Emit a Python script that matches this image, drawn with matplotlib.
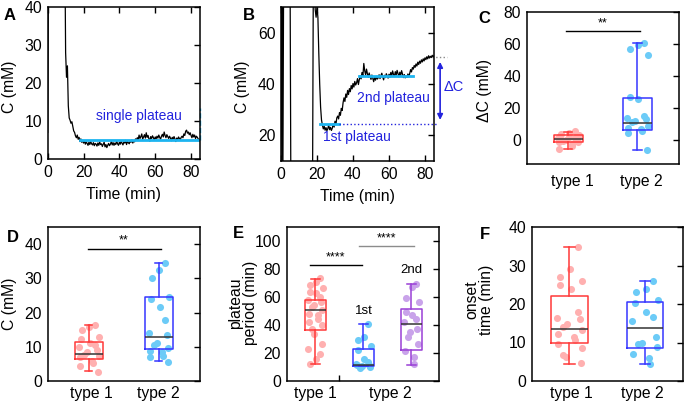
import numpy as np
import matplotlib.pyplot as plt

plt.rcParams['font.family'] = ['Liberation Sans', 'DejaVu Sans']
plt.rcParams['font.size'] = 11.3
plt.rcParams['axes.linewidth'] = 1.1
plt.rcParams['axes.unicode_minus'] = False

W, H = 685, 404

# ---- data ----
# concentration traces, one value every 0.5 min from 0 to 85 min
time_a = np.arange(0, 85.5, 0.5)
conc_a = [7, 60, 60, 60, 60, 60, 60, 60, 60, 60,
          60, 60, 60, 60, 60, 60, 60, 60, 60, 60,
          28, 21.5, 24.5, 14, 10.8, 10.2, 9.4, 9.8, 8.6, 7.4,
          7.0, 6.1, 5.6, 6.3, 5.2, 5.7, 4.6, 5.3, 4.4, 4.9,
          4.2, 4.8, 3.9, 4.5, 4.1, 3.6, 4.4, 3.8, 4.6, 4.0,
          3.7, 4.3, 3.5, 4.1, 3.9, 3.4, 4.2, 3.6, 4.5, 3.8,
          4.0, 3.3, 3.9, 4.4, 3.2, 3.8, 3.0, 3.6, 4.1, 3.5,
          3.9, 4.6, 3.7, 4.3, 3.6, 4.2, 3.8, 4.7, 4.0, 3.6,
          4.4, 3.9, 4.8, 4.1, 3.7, 4.5, 4.2, 4.9, 3.8, 4.6,
          4.3, 4.0, 4.7, 4.4, 5.0, 4.2, 4.8, 4.5, 5.3, 4.9,
          5.6, 5.1, 6.3, 5.4, 5.9, 6.6, 5.2, 5.8, 6.4, 5.5,
          6.9, 5.7, 6.2, 5.3, 4.7, 5.9, 5.4, 6.1, 5.6, 5.0,
          5.8, 5.3, 6.0, 5.5, 6.3, 5.7, 5.2, 6.0, 6.5, 5.8,
          7.1, 6.2, 5.6, 6.4, 5.9, 5.4, 6.0, 5.5, 4.8, 5.7,
          5.2, 5.9, 5.3, 4.6, 5.5, 5.0, 5.8, 5.4, 5.1, 5.7,
          6.0, 5.6, 6.6, 6.2, 7.3, 7.6, 6.8, 7.1, 6.4, 6.9,
          6.2, 5.6, 6.5, 5.8, 6.3, 5.4, 6.0, 5.7, 5.3, 4.9,
          5.2]

time_b = np.arange(0, 85.5, 0.5)
conc_b = [-5, 90, -5, 90, 90, 90, 90, 90, 90, 90,
          90, -5, -5, -5, -5, -5, -5, -5, -5, -5,
          -5, -5, -5, -5, -5, -5, -5, -5, -5, -5,
          -5, -5, -5, -5, -5, -5, 90, 80, 69, 66,
          70, 66, 52, 40, 31, 26, 24, 22.5, 23.5, 22,
          23.0, 21.8, 22.6, 24.0, 22.2, 23.1, 21.9, 22.8, 24.5, 23.2,
          25.5, 24.2, 26.8, 27.5, 26.4, 28.9, 27.8, 30.5, 29.7, 32.8,
          34.6, 33.2, 36.1, 34.8, 37.5, 35.9, 38.2, 37.0, 39.4, 38.1,
          40.2, 38.8, 41.0, 39.6, 40.5, 42.1, 39.8, 41.7, 43.2, 42.0,
          44.5, 43.1, 48.0, 45.2, 43.6, 45.8, 44.0, 42.6, 44.3, 42.9,
          41.8, 43.5, 42.2, 40.9, 42.7, 41.5, 43.0, 41.9, 42.4, 43.6,
          42.1, 43.3, 44.2, 42.8, 41.6, 43.4, 42.5, 44.0, 43.1, 42.3,
          43.8, 42.6, 44.5, 43.2, 45.1, 43.7, 42.9, 44.8, 43.5, 45.3,
          44.0, 42.8, 44.6, 43.4, 45.2, 43.9, 42.5, 43.7, 42.4, 43.2,
          42.6, 43.9, 42.8, 44.1, 45.6, 44.7, 46.4, 45.8, 47.2, 46.5,
          47.8, 47.0, 48.5, 47.6, 48.9, 48.1, 49.4, 48.6, 49.8, 49.0,
          50.2, 49.5, 50.6, 49.8, 51.0, 50.1, 50.8, 50.3, 51.2, 50.5,
          51.0]

single_level, single_span = 5.0, [18, 85]
first_level, first_span = 24.5, [21.5, 32]
second_level, second_span = 43.0, [43.5, 73.5]
end_level = 50.5

# panel C: delta C (mM); box stats = whislo, q1, med, q3, whishi
dc_t1 = [5.5, 4.5, 4, 3, 2.5, 2, 1.5, 1, 0.5, 0, -0.5, -1, -1.5, -2.5, -4, -5.5]
dc_t2 = [60.5, 59.5, 56.5, 53, 27, 25.5, 15, 14, 13, 12, 11, 9, 7.5, 7, 5.5, 4.5, -6]
dc_box_t1 = [-5.4, -1.3, 0.6, 2.9, 4.8]
dc_box_t2 = [-6, 6.3, 10.6, 26.3, 60.3]

# panel D: C (mM)
c_t1 = [16.5, 15.8, 14.8, 12.8, 12.3, 11.1, 10.5, 9.9, 9.2, 8.4, 7.7, 7.4, 6.9, 5.9, 5.2, 4.4, 2.7]
c_t2 = [34.5, 32.5, 30.2, 24.6, 24.1, 21.7, 17.7, 14.1, 13.3, 11.1, 10.5, 9.6, 8.9, 8.4, 7.4, 6.9, 5.6]
c_box_t1 = [2.8, 6.4, 7.8, 11.3, 16.3]
c_box_t2 = [5.9, 9.4, 13.0, 24.6, 34.5]

# panel E: plateau period (min)
per_t1 = [73.5, 71, 68.7, 66.3, 63.9, 62.7, 60.2, 57.8, 56.6, 54.2, 53, 50.6,
          48.2, 47, 44.6, 42.2, 39.8, 37.3, 33.7, 26.5, 22.9, 19.3, 15.7, 12]
per_1st = [41, 31.3, 29.4, 25.3, 22.2, 15.7, 13.3, 12, 11.3, 10.6, 9.6, 10.1, 11.1]
per_2nd = [69.2, 67, 59, 56.6, 49.4, 47, 44.6, 42.2, 37.3, 34.9, 31.3, 26.5, 21.7, 16.9, 12]
per_box_t1 = [12.0, 36.6, 50.4, 58.1, 72.8]
per_box_1st = [10.8, 10.8, 11.6, 23.1, 40.5]
per_box_2nd = [11.3, 22.4, 41.0, 51.1, 69.2]

# panel F: onset time (min)
on_t1 = [34.7, 29, 26.9, 26.1, 25, 23.8, 18, 16.3, 16, 14.9, 14.1, 13.2, 12.3,
         11.5, 10.6, 9.7, 8.6, 6.7, 6.3, 4.7]
on_t2 = [25.9, 23.8, 23.2, 21, 20.3, 18, 16.7, 15.7, 11.5, 9.9, 9.6, 8.9, 7.1, 6.1, 4.3]
on_box_t1 = [4.5, 9.9, 13.4, 22.2, 34.7]
on_box_t2 = [4.3, 8.7, 13.7, 20.6, 25.9]

# ---- colours ----
BLUE_TXT = '#2323dd'
CYAN = '#1db4f0'
RED, PINK = '#ff3838', '#ffb0b0'
BBOX, LBLUE = '#3636ff', '#6ccbf7'
PURP, LPURP = '#9a3fd6', '#c9a3ea'


def px_axes(fig, left, top, right, bottom):
    return fig.add_axes([left / W, 1 - bottom / H, (right - left) / W, (bottom - top) / H])


def draw_box(ax, pos, stats, pts, ecol, pcol, width, capw):
    lo, q1, med, q3, hi = stats
    off = 0.36 * width * np.sin(np.arange(len(pts)) * 2.39 + 0.7)
    ax.scatter(pos + off, pts, s=26, color=pcol, linewidths=0, zorder=2)
    st = [dict(whislo=lo, q1=q1, med=med, q3=q3, whishi=hi, fliers=[])]
    ax.bxp(st, positions=[pos], widths=width, capwidths=capw, showfliers=False,
           boxprops=dict(color=ecol, lw=1.1), whiskerprops=dict(color=ecol, lw=1.1),
           capprops=dict(color=ecol, lw=1.1), medianprops=dict(color='#333333', lw=1.1),
           manage_ticks=False, zorder=3)


def sig(ax, x0, x1, y, col='black'):
    ax.plot([x0, x1], [y, y], color=col, lw=1.0)


fig = plt.figure(figsize=(W / 100, H / 100), dpi=100)

# ---- A ----
axA = px_axes(fig, 47.7, 7, 200, 159)
axA.plot(time_a, conc_a, color='black', lw=0.9)
axA.plot(single_span, [single_level] * 2, color=CYAN, lw=2)
axA.plot([85, 85], [single_level, 13.5], color=CYAN, lw=1, ls='--', clip_on=False)
axA.text(51, 11.3, 'single plateau', color=BLUE_TXT, ha='center', va='center', fontsize=10)
axA.set_xlim(0, 85)
axA.set_ylim(0, 40)
axA.set_xticks([0, 20, 40, 60, 80])
axA.set_yticks([0, 10, 20, 30, 40])
axA.set_xlabel('Time (min)', labelpad=5)

# ---- B ----
axB = px_axes(fig, 281, 7, 434, 161)
axB.plot(time_b, conc_b, color='black', lw=0.9)
axB.plot(first_span, [first_level] * 2, color=CYAN, lw=2)
axB.plot(second_span, [second_level] * 2, color=CYAN, lw=2)
yt = axB.get_yaxis_transform()
axB.plot([first_span[1] / 85, 1.02], [first_level] * 2, color=BLUE_TXT, lw=1, ls=':',
         transform=yt, clip_on=False)
axB.plot([0.985, 1.083], [end_level] * 2, color='#888888', lw=1, ls=':',
         transform=yt, clip_on=False)
axB.annotate('', xy=(1.04, 48.6), xytext=(1.04, 26.0), xycoords=yt, textcoords=yt,
             arrowprops=dict(arrowstyle='<|-|>', color=BLUE_TXT, lw=1.2,
                             mutation_scale=8, shrinkA=0, shrinkB=0))
axB.text(1.06, 39, 'ΔC', transform=yt, color=BLUE_TXT, ha='left', va='center', fontsize=10.5)
axB.text(62.6, 34.4, '2nd plateau', color=BLUE_TXT, ha='center', va='center', fontsize=10)
axB.text(42.4, 19.2, '1st plateau', color=BLUE_TXT, ha='center', va='center', fontsize=10)
axB.set_xlim(0, 85)
axB.set_ylim(10, 70)
axB.set_xticks([0, 20, 40, 60, 80])
axB.set_yticks([20, 40, 60])
axB.set_xlabel('Time (min)', labelpad=5)

for ax in (axA, axB):
    ax.tick_params(direction='in', top=True, right=True, left=False, labelleft=True,
                   length=4, width=1.0, pad=4)

# ---- C ----
axC = px_axes(fig, 526.7, 11.7, 679, 164)
draw_box(axC, 1, dc_box_t1, dc_t1, RED, PINK, 0.42, 0.12)
draw_box(axC, 2, dc_box_t2, dc_t2, BBOX, LBLUE, 0.42, 0.12)
sig(axC, 0.97, 2.04, 68)
axC.text(1.5, 69, '**', ha='center', va='bottom', fontsize=9)
axC.set_xlim(0.4, 2.6)
axC.set_ylim(-15, 80)
axC.set_yticks([0, 20, 40, 60, 80])
axC.set_xticks([1.06, 2.05])
axC.set_xticklabels(['type 1', 'type 2'])

# ---- D ----
axD = px_axes(fig, 47.7, 227, 200, 381)
draw_box(axD, 1, c_box_t1, c_t1, RED, PINK, 0.4, 0.1)
draw_box(axD, 2, c_box_t2, c_t2, BBOX, LBLUE, 0.4, 0.1)
sig(axD, 0.98, 2.03, 38.5)
axD.text(1.5, 39.3, '**', ha='center', va='bottom', fontsize=9)
axD.set_xlim(0.41, 2.59)
axD.set_ylim(0, 45)
axD.set_yticks([0, 10, 20, 30, 40])
axD.set_xticks([1.04, 1.99])
axD.set_xticklabels(['type 1', 'type 2'])

# ---- E ----
axE = px_axes(fig, 286.7, 227, 439.3, 381)
draw_box(axE, 1, per_box_t1, per_t1, RED, PINK, 0.42, 0.2)
draw_box(axE, 2, per_box_1st, per_1st, BBOX, LBLUE, 0.42, 0.2)
draw_box(axE, 3, per_box_2nd, per_2nd, PURP, LPURP, 0.42, 0.2)
sig(axE, 0.885, 1.96, 82.7)
axE.text(1.42, 84, '****', ha='center', va='bottom', fontsize=9)
sig(axE, 1.906, 3.06, 96.4, col='#8c8c8c')
axE.text(2.48, 97.7, '****', ha='center', va='bottom', fontsize=9)
axE.text(2, 50, '1st', ha='center', va='center', fontsize=9.5)
axE.text(3, 79, '2nd', ha='center', va='center', fontsize=9.5)
axE.set_xlim(0.4, 3.58)
axE.set_ylim(0, 110)
axE.set_yticks([0, 20, 40, 60, 80, 100])
axE.set_xticks([1, 2.55])
axE.set_xticklabels(['type 1', 'type 2'])
axE.set_xticks([1.5], minor=True)
axE.tick_params(axis='x', which='minor', direction='in', bottom=True, length=4, width=1.0)

# ---- F ----
axF = px_axes(fig, 531.7, 227, 682.7, 381)
draw_box(axF, 1, on_box_t1, on_t1, RED, PINK, 0.48, 0.14)
draw_box(axF, 2, on_box_t2, on_t2, BBOX, LBLUE, 0.48, 0.14)
axF.set_xlim(0.5, 2.5)
axF.set_ylim(0, 40)
axF.set_yticks([0, 10, 20, 30, 40])
axF.set_xticks([1.03, 1.97])
axF.set_xticklabels(['type 1', 'type 2'])

for ax in (axC, axD, axE, axF):
    ax.tick_params(axis='y', which='major', direction='in', right=True, left=False,
                   labelleft=True, length=4, width=1.0, pad=4)
    ax.tick_params(axis='x', which='major', bottom=False, length=0, pad=3.5)
axC.tick_params(axis='x', which='major', pad=7)

# ---- y labels and panel letters (pixel positions) ----
def ftext(x, y, s, **kw):
    fig.text(x / W, 1 - y / H, s, **kw)


ylab = dict(rotation=90, ha='center', va='center', multialignment='center')
ftext(9.5, 87, 'C (mM)', **ylab)
ftext(242.5, 87, 'C (mM)', **ylab)
ftext(485, 90, 'ΔC (mM)', **ylab)
ftext(9.5, 304, 'C (mM)', **ylab)
ftext(243, 303, 'plateau\nperiod (min)', linespacing=1.0, **ylab)
ftext(479, 300, 'onset\ntime (min)', linespacing=1.0, **ylab)

letter = dict(ha='left', va='center', fontsize=12, fontweight='bold')
ftext(4, 15, 'A', **letter)
ftext(243, 15, 'B', **letter)
ftext(478, 18.5, 'C', **letter)
ftext(7, 238, 'D', **letter)
ftext(233, 234, 'E', **letter)
ftext(480, 235, 'F', **letter)

fig.savefig('out.png', dpi=100)
